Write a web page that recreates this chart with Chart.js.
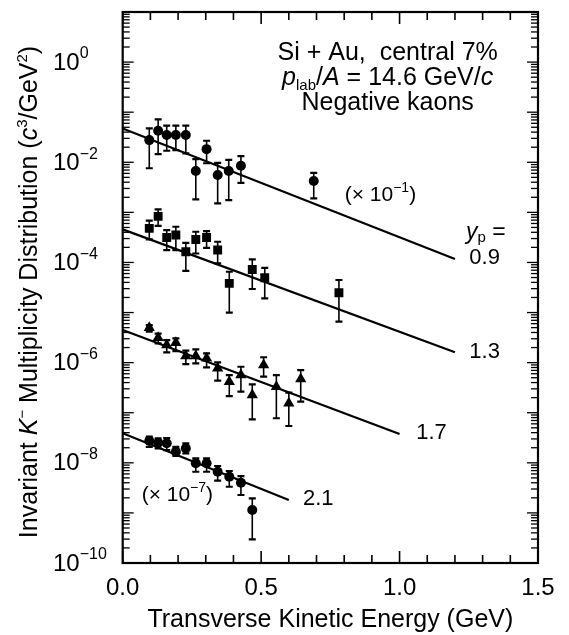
<!DOCTYPE html>
<html><head><meta charset="utf-8">
<script src="https://cdn.jsdelivr.net/npm/chart.js@4.4.1/dist/chart.umd.min.js"></script>
<style>html,body{margin:0;padding:0;background:#fff}#wrap{width:569px;height:635px}</style>
</head><body><div id="wrap"><canvas id="c" width="569" height="635"></canvas></div>
<script>
const FONT = '"Liberation Sans", Arimo, Arial, Helvetica, sans-serif';

// ---- data (transverse kinetic energy in GeV, invariant multiplicity in c^3/GeV^2) ----
// y_p = 0.9 (plotted x 10^-1), circles
const xYp09  = [0.096,0.128,0.159,0.192,0.228,0.264,0.303,0.343,0.383,0.427,0.690];
const yYp09  = [0.0277,0.0426,0.0349,0.0349,0.0349,0.00667,0.0183,0.00555,0.00667,0.00851,0.00422];
const hiYp09 = [0.0474,0.0718,0.0537,0.0537,0.0537,0.0116,0.0269,0.00977,0.0112,0.0133,0.00617];
const loYp09 = [0.0076,0.0146,0.0170,0.0174,0.0151,0.00182,0.00955,0.00151,0.00176,0.00389,0.00191];
// y_p = 1.3, squares
const xYp13  = [0.096,0.128,0.159,0.192,0.228,0.264,0.303,0.343,0.385,0.468,0.513,0.781];
const yYp13  = [4.80e-4,8.32e-4,3.16e-4,3.52e-4,1.64e-4,2.88e-4,3.16e-4,1.77e-4,3.82e-5,7.24e-5,4.95e-5,2.48e-5];
const hiYp13 = [6.81e-4,1.15e-3,4.44e-4,5.16e-4,2.47e-4,4.10e-4,4.24e-4,2.59e-4,6.52e-5,1.15e-4,7.83e-5,4.46e-5];
const loYp13 = [2.88e-4,5.37e-4,1.77e-4,1.77e-4,6.82e-5,1.51e-4,1.96e-4,9.55e-5,1.0e-5,2.95e-5,1.91e-5,6.61e-6];
// y_p = 1.7, triangles
const xYp17  = [0.096,0.128,0.159,0.192,0.228,0.264,0.303,0.343,0.385,0.427,0.468,0.509,0.555,0.600,0.643];
const yYp17  = [4.98e-6,3.14e-6,2.24e-6,2.49e-6,1.36e-6,1.36e-6,1.22e-6,7.69e-7,4.17e-7,5.65e-7,2.25e-7,8.95e-7,3.31e-7,1.55e-7,4.71e-7];
const hiYp17 = [5.62e-6,3.80e-6,2.82e-6,3.05e-6,1.73e-6,1.84e-6,1.53e-6,1.01e-6,5.65e-7,8.28e-7,3.69e-7,1.28e-6,5.65e-7,2.51e-7,7.11e-7];
const loYp17 = [4.17e-6,2.43e-6,1.60e-6,1.70e-6,9.38e-7,9.68e-7,8.05e-7,4.37e-7,2.15e-7,2.63e-7,7.38e-8,5.25e-7,7.76e-8,5.43e-8,1.66e-7];
// y_p = 2.1 (plotted x 10^-7), circles
const xYp21  = [0.096,0.128,0.159,0.192,0.228,0.264,0.303,0.343,0.385,0.427,0.468];
const yYp21  = [2.76e-8,2.51e-8,2.45e-8,1.67e-8,1.95e-8,9.77e-9,9.77e-9,6.64e-9,5.28e-9,4.01e-9,1.14e-9];
const hiYp21 = [3.32e-8,3.08e-8,3.13e-8,2.09e-8,2.45e-8,1.23e-8,1.23e-8,8.63e-9,6.86e-9,5.44e-9,1.95e-9];
const loYp21 = [2.09e-8,1.95e-8,1.80e-8,1.37e-8,1.55e-8,6.64e-9,6.64e-9,4.40e-9,3.33e-9,2.28e-9,2.97e-10];
// exponential fits (end points)
const fitX09 = [0, 1.2], fitY09 = [0.0474, 1.17e-4];
const fitX13 = [0, 1.2], fitY13 = [4.58e-4, 1.61e-6];
const fitX17 = [0, 1.0], fitY17 = [4.48e-6, 3.76e-8];
const fitX21 = [0, 0.6], fitY21 = [3.88e-8, 1.81e-9];
// tick labels
const xTickLabels = ['0.0','0.5','1.0','1.5'];
const yTickExps = [0,-2,-4,-6,-8,-10];
const ypLabels = ['0.9','1.3','1.7','2.1'];

// ---- helpers ----
const pts = (xs, ys) => xs.map((x, i) => ({x, y: ys[i]}));

function drawRich(ctx, segs, x, y, align) {
  let total = 0;
  segs.forEach(s => {
    ctx.font = `${s.style || ''} ${s.size}px ${FONT}`;
    s.w = ctx.measureText(s.t).width; total += s.w;
  });
  let cx = align === 'center' ? x - total / 2 : x;
  segs.forEach(s => {
    ctx.font = `${s.style || ''} ${s.size}px ${FONT}`;
    ctx.fillText(s.t, cx, y + (s.dy || 0)); cx += s.w;
  });
}

const errorBars = {
  id: 'errorBars',
  beforeDatasetsDraw(chart) {
    const {ctx, scales: {y}} = chart;
    ctx.save();
    ctx.strokeStyle = '#000';
    chart.data.datasets.forEach((ds, i) => {
      if (!ds.errHi) return;
      chart.getDatasetMeta(i).data.forEach((pt, j) => {
        const yh = y.getPixelForValue(ds.errHi[j]), yl = y.getPixelForValue(ds.errLo[j]);
        ctx.lineWidth = 1.6;
        ctx.beginPath(); ctx.moveTo(pt.x, yh); ctx.lineTo(pt.x, yl); ctx.stroke();
        ctx.lineWidth = 2.2;
        ctx.beginPath();
        ctx.moveTo(pt.x - 3.5, yh); ctx.lineTo(pt.x + 3.5, yh);
        ctx.moveTo(pt.x - 3.5, yl); ctx.lineTo(pt.x + 3.5, yl);
        ctx.stroke();
      });
    });
    ctx.restore();
  }
};

const frame = {
  id: 'frame',
  afterDraw(chart) {
    const {ctx, chartArea: a, scales: {x, y}} = chart;
    ctx.save();
    ctx.strokeStyle = '#000';
    ctx.lineWidth = 1.6;
    const seg = (x1, y1, x2, y2) => { ctx.beginPath(); ctx.moveTo(x1, y1); ctx.lineTo(x2, y2); ctx.stroke(); };
    for (let i = 0; i <= 15; i++) {
      const px = x.getPixelForValue(i / 10);
      const len = i % 5 === 0 ? 12 : 8;
      seg(px, a.bottom, px, a.bottom - len);
      seg(px, a.top, px, a.top + len);
    }
    ctx.lineWidth = 1.3;
    for (let e = -10; e <= 0; e++) {
      for (let m = 1; m <= 9; m++) {
        const py = y.getPixelForValue(m * Math.pow(10, e));
        const len = m === 1 ? 11 : 7;
        seg(a.left, py, a.left + len, py);
        seg(a.right, py, a.right - len, py);
      }
    }
    ctx.lineWidth = 2.2;
    ctx.strokeRect(a.left, a.top, a.right - a.left, a.bottom - a.top);
    // y tick labels 10^n
    ctx.fillStyle = '#000';
    ctx.textBaseline = 'middle';
    yTickExps.forEach(e => {
      const py = y.getPixelForValue(Math.pow(10, e));
      drawRich(ctx, [{t: '10', size: 24}, {t: String(e).replace('-', '−'), size: 16, dy: -9}], 53, py + 1, 'left');
    });
    ctx.restore();
  }
};

const annotations = {
  id: 'annotations',
  afterDraw(chart) {
    const {ctx, chartArea: a, scales: {x, y}} = chart;
    ctx.save();
    ctx.fillStyle = '#000';
    ctx.textBaseline = 'alphabetic';
    // header
    const hx = x.getPixelForValue(0.957);
    drawRich(ctx, [{t: 'Si + Au,  central 7%', size: 25}], hx, y.getPixelForValue(1.096), 'center');
    drawRich(ctx, [
      {t: 'p', size: 25, style: 'italic'}, {t: 'lab', size: 15, dy: 5},
      {t: '/', size: 25}, {t: 'A', size: 25, style: 'italic'},
      {t: ' = 14.6 GeV/', size: 25}, {t: 'c', size: 25, style: 'italic'}
    ], hx, y.getPixelForValue(0.3475), 'center');
    drawRich(ctx, [{t: 'Negative kaons', size: 25}], hx, y.getPixelForValue(0.110), 'center');
    // scale factors
    ctx.textBaseline = 'middle';
    drawRich(ctx, [{t: '(× 10', size: 21}, {t: '−1', size: 14, dy: -7}, {t: ')', size: 21}],
      x.getPixelForValue(0.802), y.getPixelForValue(2.21e-3), 'left');
    drawRich(ctx, [{t: '(× 10', size: 21}, {t: '−7', size: 14, dy: -7}, {t: ')', size: 21}],
      x.getPixelForValue(0.0685), y.getPixelForValue(2.28e-9), 'left');
    // y_p labels
    drawRich(ctx, [{t: 'y', size: 23, style: 'italic'}, {t: 'p', size: 15, dy: 5}, {t: ' =', size: 23}],
      x.getPixelForValue(1.240), y.getPixelForValue(3.86e-4), 'left');
    const ypPos = [[1.252, 1.225e-4], [1.252, 1.652e-6], [1.060, 3.88e-8], [0.651, 1.89e-9]];
    ypLabels.forEach((t, i) => drawRich(ctx, [{t, size: 22}],
      x.getPixelForValue(ypPos[i][0]), y.getPixelForValue(ypPos[i][1]), 'left'));
    // y axis title
    ctx.textBaseline = 'alphabetic';
    ctx.translate(37, (a.top + a.bottom) / 2 + 4.5);
    ctx.rotate(-Math.PI / 2);
    drawRich(ctx, [
      {t: 'Invariant ', size: 25}, {t: 'K', size: 25, style: 'italic'}, {t: '−', size: 15, dy: -10},
      {t: ' Multiplicity Distribution (', size: 25}, {t: 'c', size: 25, style: 'italic'},
      {t: '3', size: 15, dy: -10}, {t: '/GeV', size: 25}, {t: '2', size: 15, dy: -10}, {t: ')', size: 25}
    ], 0, 0, 'center');
    ctx.restore();
  }
};

const pointBase = {backgroundColor: '#000', borderColor: '#000', borderWidth: 0, showLine: false};
const lineBase = {showLine: true, borderColor: '#000', borderWidth: 2.2, pointRadius: 0, fill: false};

new Chart(document.getElementById('c'), {
  type: 'scatter',
  data: {
    datasets: [
      {...pointBase, label: 'y_p = 0.9 (x10^-1)', data: pts(xYp09, yYp09), errHi: hiYp09, errLo: loYp09, pointStyle: 'circle', pointRadius: 5},
      {...pointBase, label: 'y_p = 1.3', data: pts(xYp13, yYp13), errHi: hiYp13, errLo: loYp13, pointStyle: 'rect', pointRadius: 6.3},
      {...pointBase, label: 'y_p = 1.7', data: pts(xYp17, yYp17), errHi: hiYp17, errLo: loYp17, pointStyle: 'triangle', pointRadius: 6.5},
      {...pointBase, label: 'y_p = 2.1 (x10^-7)', data: pts(xYp21, yYp21), errHi: hiYp21, errLo: loYp21, pointStyle: 'circle', pointRadius: 5},
      {...lineBase, label: 'fit 0.9', data: pts(fitX09, fitY09)},
      {...lineBase, label: 'fit 1.3', data: pts(fitX13, fitY13)},
      {...lineBase, label: 'fit 1.7', data: pts(fitX17, fitY17)},
      {...lineBase, label: 'fit 2.1', data: pts(fitX21, fitY21)}
    ]
  },
  options: {
    responsive: false, animation: false, events: [],
    layout: {padding: {left: 53, top: 12, right: 31, bottom: 0}},
    plugins: {legend: {display: false}, tooltip: {enabled: false}},
    scales: {
      x: {
        type: 'linear', min: 0, max: 1.5,
        grid: {display: false, drawTicks: false}, border: {display: false},
        ticks: {
          stepSize: 0.1, autoSkip: false, maxRotation: 0, padding: 11, color: '#000',
          font: {family: FONT, size: 24},
          callback(v) { const k = Math.round(v * 10); return k % 5 === 0 ? xTickLabels[k / 5] : null; }
        },
        title: {display: true, text: 'Transverse Kinetic Energy (GeV)', color: '#000',
                font: {family: FONT, size: 25}, padding: {top: 0, bottom: 0}},
        afterFit(s) { s.height = 72; }
      },
      y: {
        type: 'logarithmic', min: 1e-10, max: 10,
        grid: {display: false, drawTicks: false}, border: {display: false},
        ticks: {display: false},
        afterFit(s) { s.width = 69.7; }
      }
    }
  },
  plugins: [errorBars, frame, annotations]
});
</script>
</body></html>
